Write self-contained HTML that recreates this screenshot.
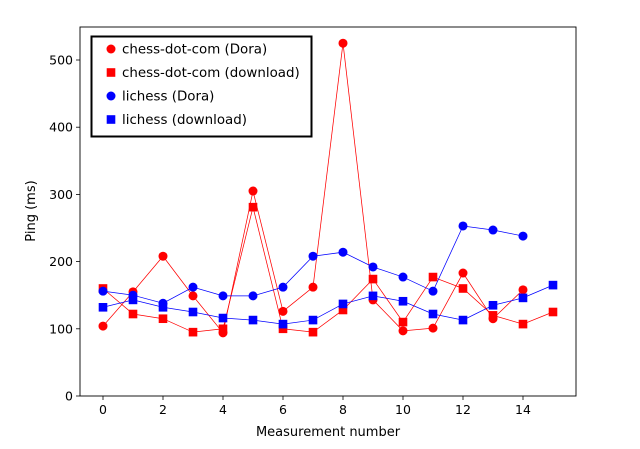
<!DOCTYPE html>
<html><head><meta charset="utf-8"><style>
body{margin:0;background:#fff;}
svg{display:block;font-family:"DejaVu Sans","Liberation Sans",sans-serif;}
</style></head><body>
<svg id="chart" width="640" height="449" viewBox="0 0 640 449" xmlns="http://www.w3.org/2000/svg">
<rect x="0" y="0" width="640" height="449" fill="#fff"/>
<g id="marks"></g>
<g id="axes"></g>
</svg>
<script>
const chessDora = [104,155,208,149,94,305,126,162,525,143,97,101,183,115,158];
const chessDownload = [160,122,115,95,100,281,100,95,128,174,110,177,160,120,107,125];
const lichessDora = [156,150,138,162,149,149,162,208,214,192,177,156,253,247,238];
const lichessDownload = [132,143,132,125,116,113,107,113,137,149,141,122,113,135,146,165];
const xTicks = [0,2,4,6,8,10,12,14];
const yTicks = [0,100,200,300,400,500];
const seriesNames = ["chess-dot-com (Dora)","chess-dot-com (download)","lichess (Dora)","lichess (download)"];

const NS="http://www.w3.org/2000/svg";
const L=80,R=576,T=27,B=396;
function xs(i){return 103+i*30;}
function ys(v){return 396-v*0.672;}
function mk(tag,attrs,parent){const e=document.createElementNS(NS,tag);for(const k in attrs)e.setAttribute(k,attrs[k]);parent.appendChild(e);return e;}
const marks=document.getElementById('marks');
const axes=document.getElementById('axes');

function drawSeries(vals,color,shape,name){
  const g=mk('g',{},marks);
  
  
  const pts=vals.map((v,i)=>xs(i)+','+ys(v)).join(' ');
  const pl=mk('polyline',{points:pts,fill:'none',stroke:color,'stroke-width':0.75},g);
  
  
  vals.forEach((v,i)=>{
    let m;
    if(shape==='circle') m=mk('circle',{cx:xs(i),cy:ys(v),r:4.5,fill:color},g);
    else m=mk('rect',{x:xs(i)-4.3,y:ys(v)-4.3,width:8.6,height:8.6,fill:color},g);
    
    
  });
}
drawSeries(chessDora,'#ff0000','circle','chess-dora');
drawSeries(chessDownload,'#ff0000','square','chess-download');
drawSeries(lichessDora,'#0000ff','circle','lichess-dora');
drawSeries(lichessDownload,'#0000ff','square','lichess-download');

const frame=mk('rect',{x:L,y:T,width:R-L,height:B-T,fill:'none',stroke:'#000','stroke-width':0.9},axes);


xTicks.forEach(t=>{
  mk('line',{x1:xs(t),x2:xs(t),y1:B,y2:B+4,stroke:'#000','stroke-width':0.8},axes);
  const tx=mk('text',{x:xs(t),y:B+18,'text-anchor':'middle','font-size':12.5},axes);
  tx.textContent=t;
  
  
});
yTicks.forEach(t=>{
  mk('line',{x1:L-4,x2:L,y1:ys(t),y2:ys(t),stroke:'#000','stroke-width':0.8},axes);
  const tx=mk('text',{x:L-7,y:ys(t)+4.5,'text-anchor':'end','font-size':12.5},axes);
  tx.textContent=t;
  
  
});
const xt=mk('text',{x:328,y:436,'text-anchor':'middle','font-size':13},axes);
xt.textContent='Measurement number';


const yt=mk('text',{x:0,y:0,'text-anchor':'middle','font-size':13,transform:'translate(35,211) rotate(-90)'},axes);
yt.textContent='Ping (ms)';



const lg=mk('g',{},axes);


mk('rect',{x:91.5,y:36.5,width:220,height:100,fill:'#fff',stroke:'#000','stroke-width':2},lg);
const colors=['#ff0000','#ff0000','#0000ff','#0000ff'];
const shapes=['circle','square','circle','square'];
seriesNames.forEach((n,i)=>{
  const y=49+i*23.5;
  const e=mk('g',{},lg);
  
  
  if(shapes[i]==='circle') mk('circle',{cx:111,cy:y,r:4.5,fill:colors[i]},e);
  else mk('rect',{x:106.7,y:y-4.3,width:8.6,height:8.6,fill:colors[i]},e);
  const t=mk('text',{x:122,y:y+4.5,'font-size':13.4},e);
  t.textContent=n;
});
</script>
</body></html>
